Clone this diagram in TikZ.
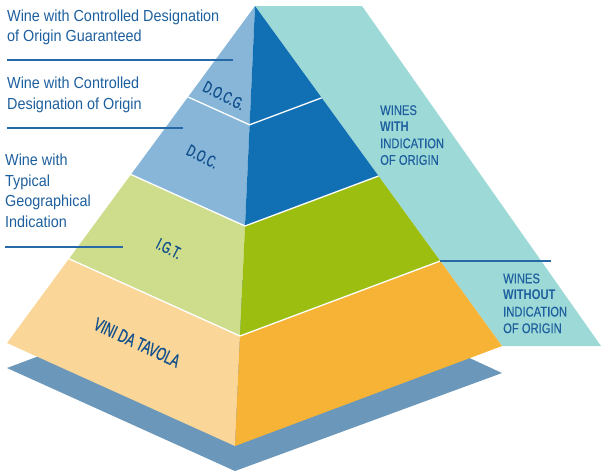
\documentclass[tikz,border=0pt]{standalone}
\usepackage{fontspec}
\setmainfont{Liberation Sans}[FakeStretch=0.9]
\newfontfamily\narrowsf{Liberation Sans}[FakeStretch=0.8, UprightFeatures={FakeBold=0.3}]
\newfontfamily\levelsf{Liberation Sans}[FakeStretch=0.65, FakeBold=0.6]
\usepackage{tikz}
\usetikzlibrary{calc}
\definecolor{blueL}{HTML}{87B6D9}
\definecolor{blueR}{HTML}{116FB3}
\definecolor{greenL}{HTML}{CDDD8B}
\definecolor{greenR}{HTML}{9BBE10}
\definecolor{orangeL}{HTML}{FAD698}
\definecolor{orangeR}{HTML}{F7B335}
\definecolor{tealband}{HTML}{9DD9D6}
\definecolor{shadowblue}{HTML}{6B98BA}
\definecolor{txtblue}{HTML}{1D5F9E}
\definecolor{navy}{HTML}{11508D}
\definecolor{lineblue}{HTML}{2768A6}
\tikzset{
  leader/.style = {draw=lineblue, line width=1.1pt},
  sep/.style = {draw=white, line width=1.3pt, line join=round},
  desc/.style = {anchor=north west, inner sep=0pt, align=left,
    text=txtblue, font=\fontsize{16}{20.8}\selectfont},
  band/.style = {anchor=north west, inner sep=0pt, align=left,
    text=txtblue, font=\narrowsf\fontsize{14}{16.6}\selectfont},
  lvl/.style = {inner sep=0pt, text=navy,
    font=\levelsf\fontsize{16.5}{16.5}\selectfont}
}
\begin{document}
\begin{tikzpicture}[x=1pt,y=-1pt]
\useasboundingbox (0,0) rectangle (601,472);
% pyramid corners
\coordinate (apex) at (255,6);
\coordinate (bl) at (7,343);
\coordinate (bf) at (235,446);
\coordinate (br) at (502,346);
\coordinate (tr) at (362,6);
\coordinate (fr) at (601,346);
\foreach \t/\n in {0.27/1,0.5/2,0.75/3}{
  \coordinate (l\n) at ($(apex)!\t!(bl)$);
  \coordinate (f\n) at ($(apex)!\t!(bf)$);
  \coordinate (r\n) at ($(apex)!\t!(br)$);
}
% shadow and band
\fill[shadowblue] ($(bl)+(0,25)$) -- ($(bf)+(0,25)$) -- ($(br)+(0,27)$) -- (274,268) -- cycle;
\fill[tealband] (apex) -- (tr) -- (fr) -- (br) -- cycle;
% faces
\fill[blueL] (apex) -- (l2) -- (f2) -- cycle;
\fill[blueR] (apex) -- (f2) -- (r2) -- cycle;
\fill[greenL] (l2) -- (l3) -- (f3) -- (f2) -- cycle;
\fill[greenR] (f2) -- (f3) -- (r3) -- (r2) -- cycle;
\fill[orangeL] (l3) -- (bl) -- (bf) -- (f3) -- cycle;
\fill[orangeR] (f3) -- (bf) -- (br) -- (r3) -- cycle;
\foreach \n in {1,2,3}
  \draw[sep] (l\n) -- (f\n) -- (r\n);
% leader lines
\coordinate (a1) at (7,60);   \coordinate (b1) at (233,60);
\coordinate (a2) at (7,128);  \coordinate (b2) at (183,128);
\coordinate (a3) at (5,247);  \coordinate (b3) at (123,247);
\coordinate (b4) at (551,261);
\draw[leader] (a1) -- (b1);
\draw[leader] (a2) -- (b2);
\draw[leader] (a3) -- (b3);
\draw[leader] (r3) -- (b4);
% texts
\node[desc] (docgtxt) at (7,9.3) {Wine with Controlled Designation\\of Origin Guaranteed};
\node[desc] (doctxt) at (7,76.5) {Wine with Controlled\\Designation of Origin};
\node[desc] (igttxt) at (5,153.5) {Wine with\\Typical\\Geographical\\Indication};
\node[band] (withtxt) at (380,105) {WINES\\\textbf{WITH}\\INDICATION\\OF ORIGIN};
\node[band] (withouttxt) at (503,273.3) {WINES\\\textbf{WITHOUT}\\INDICATION\\OF ORIGIN};
\node[lvl, rotate=-27] (docg) at (224,95.5) {D.O.C.G.};
\node[lvl, rotate=-27] (doc) at (202.5,156.5) {D.O.C.};
\node[lvl, rotate=-27] (igt) at (169,248.5) {I.G.T.};
\node[lvl, rotate=-25, font=\levelsf\fontsize{18.5}{18.5}\selectfont] (vdt) at (137,342.5) {VINI DA TAVOLA};
\end{tikzpicture}
\end{document}
